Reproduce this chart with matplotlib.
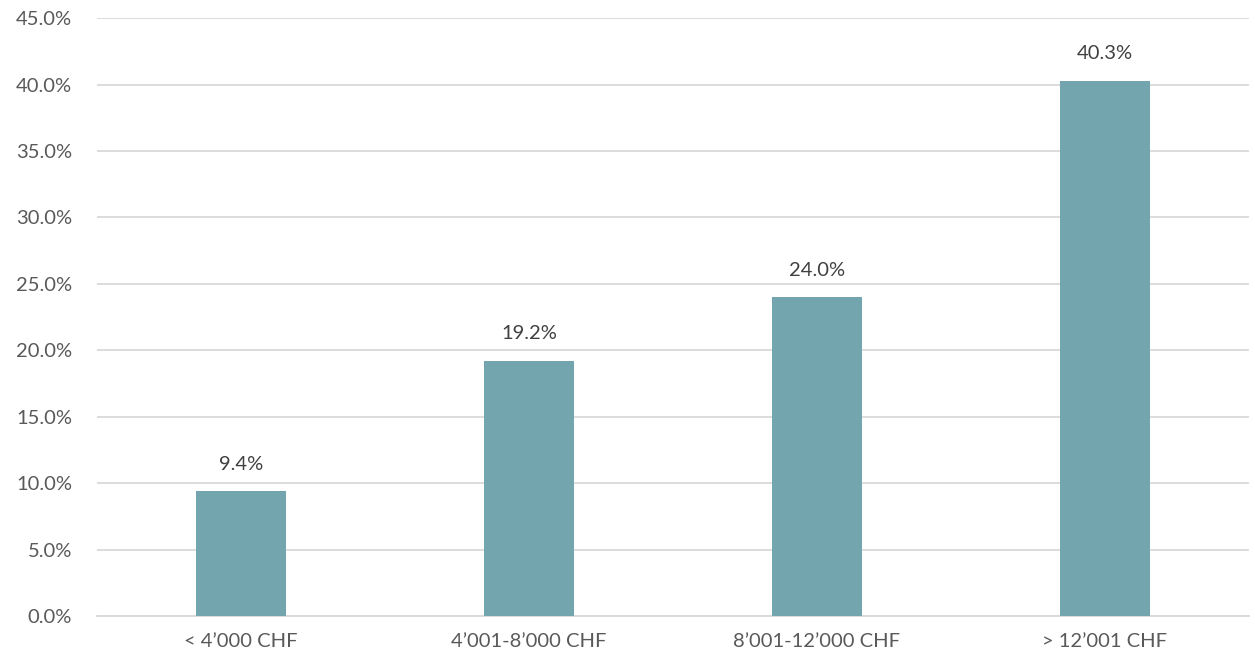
import matplotlib.pyplot as plt
import numpy as np

# Income brackets and share of respondents
categories = ['< 4\u2019000 CHF', '4\u2019001-8\u2019000 CHF', '8\u2019001-12\u2019000 CHF', '> 12\u2019001 CHF']
shares = [9.4, 19.2, 24.0, 40.3]
y_ticks = [0, 5, 10, 15, 20, 25, 30, 35, 40, 45]

plt.rcParams['font.family'] = ['Lato', 'DejaVu Sans']

fig = plt.figure(figsize=(12.55, 6.6), dpi=100)
ax = fig.add_axes([0.0773, 0.066, 0.9177, 0.9067])

x = np.arange(len(categories))
ax.bar(x, shares, width=0.313, color='#72a5ae', zorder=3)

# Value labels above the bars
for xi, v in zip(x, shares):
    ax.text(xi, v + 1.4, f'{v:.1f}%', ha='center', va='bottom',
            fontsize=14.5, color='#404040')

ax.set_xlim(-0.5, len(categories) - 0.5)
ax.set_ylim(0, 45)
ax.set_yticks(y_ticks)
ax.set_yticklabels([f'{t:.1f}%' for t in y_ticks])
ax.set_xticks(x)
ax.set_xticklabels(categories)

ax.grid(axis='y', color='#d9d9d9', linewidth=1.3, zorder=0)
for side in ['top', 'right', 'left']:
    ax.spines[side].set_visible(False)
ax.spines['bottom'].set_color('#d9d9d9')
ax.spines['bottom'].set_linewidth(1.3)
ax.tick_params(axis='both', length=0, labelsize=14.5, labelcolor='#595959')
ax.tick_params(axis='y', pad=18)
ax.tick_params(axis='x', pad=12)

plt.savefig('out.png', dpi=100)
